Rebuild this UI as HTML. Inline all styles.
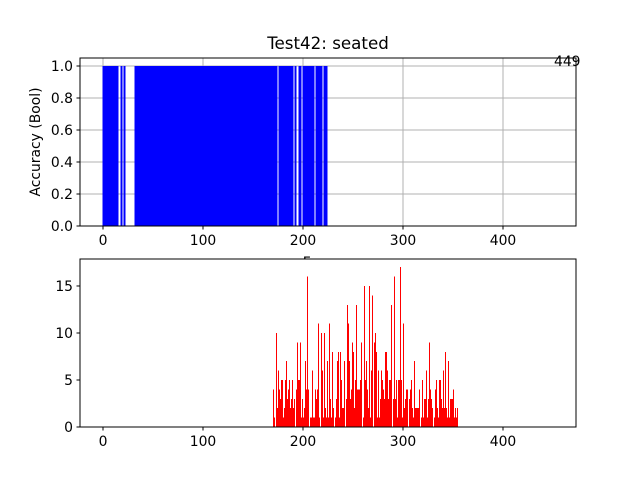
<!DOCTYPE html>
<html><head><meta charset="utf-8"><style>
html,body{margin:0;padding:0;background:#fff;}
svg{display:block;font-family:"DejaVu Sans","Liberation Sans",sans-serif;}
</style></head><body>
<svg id="chart" width="640" height="480" viewBox="0 0 640 480">
<rect width="640" height="480" fill="#fff"/>
<text x="328" y="49" font-size="16.7" text-anchor="middle">Test42: seated</text>
<g id="top"></g>
<g id="bot"></g>
</svg>
<script>
// Top panel: accuracy segments [startFrame, endFrame, value]
const accSegments = [[0,15,1],[16,17,0],[18,19,1],[20,20,0],[21,22,1],[23,31,0],[32,174,1],[175,175,0],[176,190,1],[191,191,0],[192,193,1],[194,195,0],[196,198,1],[199,199,0],[200,211,1],[212,212,0],[213,219,1],[220,220,0],[221,224,1],[225,449,0]];
const topYTicks = [0.0,0.2,0.4,0.6,0.8,1.0];
const xTicks = [0,100,200,300,400];
// Bottom panel: counts starting at frame 170
const botStart = 170;
const botValues = [4,1,0,10,2,6,4,3,5,5,1,2,5,7,3,4,5,2,3,5,2,3,0,4,9,5,5,9,1,3,1,2,7,4,16,4,0,1,1,6,1,1,4,3,4,11,1,0,10,6,1,10,2,1,7,1,11,3,1,8,2,0,1,3,7,8,1,8,5,2,2,7,0,3,13,11,7,3,4,9,8,2,5,13,4,4,4,5,9,0,1,15,5,7,4,2,15,1,6,14,0,9,10,8,1,6,1,3,6,5,4,3,8,8,6,3,5,5,13,0,3,16,3,5,1,5,5,17,5,1,11,2,3,4,4,0,3,4,5,2,1,7,2,2,2,2,4,0,1,5,1,3,3,6,1,3,9,4,3,2,0,1,4,5,2,1,5,5,3,2,6,2,8,2,1,7,1,3,3,3,4,1,2,1,2];
const botYTicks = [0,5,10,15];

const NS="http://www.w3.org/2000/svg";
function mk(tag,attrs,parent){const e=document.createElementNS(NS,tag);for(const k in attrs)e.setAttribute(k,attrs[k]);parent.appendChild(e);return e;}
const X0=80,X1=576,XMIN=-23,XMAX=473;
function xs(v){return X0+(v-XMIN)/(XMAX-XMIN)*(X1-X0);}

function axes(g,top,bot,ymax,yticks){
  const ys=v=>bot-v/ymax*(bot-top);
  xTicks.forEach(t=>{const l=mk('line',{x1:xs(t),x2:xs(t),y1:top,y2:bot,stroke:'#b0b0b0','stroke-width':1},g);
    
    });
  yticks.forEach(t=>{const l=mk('line',{x1:X0,x2:X1,y1:ys(t),y2:ys(t),stroke:'#b0b0b0','stroke-width':1},g);
    
    });
  return ys;
}
function frame(g,top,bot,ymax,yticks,fmt){
  const ys=v=>bot-v/ymax*(bot-top);
  const r=mk('rect',{x:X0,y:top,width:X1-X0,height:bot-top,fill:'none',stroke:'#000','stroke-width':1},g);
  
  
  xTicks.forEach(t=>{mk('line',{x1:xs(t),x2:xs(t),y1:bot,y2:bot+3.5,stroke:'#000','stroke-width':1},g);
    const tx=mk('text',{x:xs(t),y:bot+19,'font-size':13.9,'text-anchor':'middle'},g);tx.textContent=t;
    
    });
  yticks.forEach(t=>{mk('line',{x1:X0-3.5,x2:X0,y1:ys(t),y2:ys(t),stroke:'#000','stroke-width':1},g);
    const tx=mk('text',{x:X0-7,y:ys(t)+5,'font-size':13.9,'text-anchor':'end'},g);tx.textContent=fmt(t);
    
    });
}
// top
const gt=document.getElementById('top');
const tTop=58,tBot=226,tMax=1.05;
const ysT=axes(gt,tTop,tBot,tMax,topYTicks);
accSegments.forEach(s=>{if(s[2]>0){
  const x=xs(s[0]-0.4), w=xs(s[1]+0.4)-x;
  const r=mk('rect',{x:x,y:ysT(s[2]),width:w,height:tBot-ysT(s[2]),fill:'#0000ff','shape-rendering':'crispEdges'},gt);
  
  }});
frame(gt,tTop,tBot,tMax,topYTicks,t=>t.toFixed(1));
const yl=mk('text',{x:40,y:142,'font-size':13.9,'text-anchor':'middle',transform:'rotate(-90 40 142)'},gt);
yl.textContent='Accuracy (Bool)';


const xl=mk('text',{x:328,y:267,'font-size':13.9,'text-anchor':'middle'},gt);
xl.textContent='Frames';


const an=mk('text',{x:554,y:66,'font-size':13.9},gt);
an.textContent='449';


// bottom
const gb=document.getElementById('bot');
const bTop=259,bBot=427,bMax=17.87;
const ysB=v=>bBot-v/bMax*(bBot-bTop);
mk('rect',{x:X0,y:bTop,width:X1-X0,height:bBot-bTop,fill:'#fff'},gb);
botValues.forEach((v,i)=>{if(v>0){
  const f=botStart+i;
  const r=mk('rect',{x:Math.round(xs(f-0.5)),y:ysB(v),width:1,height:bBot-ysB(v),fill:'#ff0000','shape-rendering':'crispEdges'},gb);
  
  }});
frame(gb,bTop,bBot,bMax,botYTicks,t=>String(t));
</script>
</body></html>
